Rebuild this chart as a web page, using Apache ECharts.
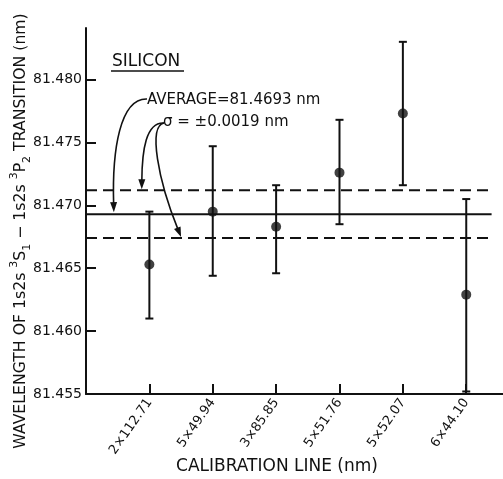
<!DOCTYPE html>
<html><head><meta charset="utf-8">
<script src="https://cdn.jsdelivr.net/npm/echarts@6/dist/echarts.min.js"></script>
<style>html,body{margin:0;padding:0;background:#fff}#c{width:503px;height:479px}</style>
</head><body><div id="c"></div>
<script>
// ---- data ----
const categories = ['2×112.71', '5×49.94', '3×85.85', '5×51.76', '5×52.07', '6×44.10'];
const values  = [81.4653, 81.4695, 81.4683, 81.4726, 81.4773, 81.4629];
const errLow  = [81.4610, 81.4644, 81.4646, 81.4685, 81.4716, 81.4552];
const errHigh = [81.4695, 81.4747, 81.4716, 81.4768, 81.4830, 81.4705];
const average = 81.4693;
const sigma = 0.0019;
const yTickValues = [81.455, 81.460, 81.465, 81.470, 81.475, 81.480];
const xPositions = [1, 2, 3, 4, 5, 6];

// ---- styling ----
const INK = '#111';
const FONT = 'DejaVu Sans';
const lineEnd = 6.4;

const chart = echarts.init(document.getElementById('c'), null, {renderer: 'canvas'});

const pts = values.map((v, i) => [xPositions[i], v]);
const bars = values.map((v, i) => [xPositions[i], errLow[i], errHigh[i]]);

chart.setOption({
  animation: false,
  backgroundColor: '#fff',
  grid: {left: 86, right: 0, top: 28, bottom: 85},
  xAxis: {
    type: 'value', min: 0, max: 6.58,
    axisLine: {show: true, onZero: false, lineStyle: {color: INK, width: 2}},
    axisTick: {show: true, inside: true, length: 10, lineStyle: {color: INK, width: 2}, customValues: xPositions},
    axisLabel: {
      customValues: xPositions, rotate: 55, margin: 6,
      fontFamily: FONT, fontSize: 13, color: INK,
      formatter: v => categories[Math.round(v) - 1] || ''
    },
    splitLine: {show: false}
  },
  yAxis: {
    type: 'value', min: 81.455, max: 81.4841,
    axisLine: {show: true, onZero: false, lineStyle: {color: INK, width: 2}},
    axisTick: {show: true, inside: true, length: 10, lineStyle: {color: INK, width: 2}, customValues: yTickValues},
    axisLabel: {
      customValues: yTickValues, margin: 4,
      fontFamily: FONT, fontSize: 14, color: INK,
      formatter: v => v.toFixed(3)
    },
    splitLine: {show: false}
  },
  series: [
    {
      type: 'line', data: [[0, average], [lineEnd, average]], symbol: 'none',
      lineStyle: {color: INK, width: 2}, silent: true
    },
    {
      type: 'line', data: [[0, average + sigma], [lineEnd, average + sigma]], symbol: 'none',
      lineStyle: {color: INK, width: 2, type: [11, 6]}, silent: true
    },
    {
      type: 'line', data: [[0, average - sigma], [lineEnd, average - sigma]], symbol: 'none',
      lineStyle: {color: INK, width: 2, type: [11, 6]}, silent: true
    },
    {
      type: 'custom', data: bars, clip: false,
      renderItem: (params, api) => {
        const x = api.value(0);
        const lo = api.coord([x, api.value(1)]);
        const hi = api.coord([x, api.value(2)]);
        const cap = 4;
        const st = {stroke: INK, lineWidth: 2};
        return {type: 'group', children: [
          {type: 'line', shape: {x1: lo[0], y1: lo[1], x2: hi[0], y2: hi[1]}, style: st},
          {type: 'line', shape: {x1: lo[0] - cap, y1: lo[1], x2: lo[0] + cap, y2: lo[1]}, style: st},
          {type: 'line', shape: {x1: hi[0] - cap, y1: hi[1], x2: hi[0] + cap, y2: hi[1]}, style: st}
        ]};
      }
    },
    {
      type: 'scatter', data: pts, symbol: 'circle', symbolSize: 10,
      itemStyle: {color: INK}, z: 5
    }
  ]
});

// ---- annotations ----
function px(x, y) { return chart.convertToPixel({gridIndex: 0}, [x, y]); }

function arrow(p0, c1, c2, tip) {
  const dx = tip[0] - c2[0], dy = tip[1] - c2[1];
  const len = Math.hypot(dx, dy);
  const ux = dx / len, uy = dy / len;
  const L = 10, W = 3.5;
  const base = [tip[0] - ux * L, tip[1] - uy * L];
  return [
    {type: 'bezierCurve', shape: {x1: p0[0], y1: p0[1], cpx1: c1[0], cpy1: c1[1], cpx2: c2[0], cpy2: c2[1], x2: base[0] + ux * 2, y2: base[1] + uy * 2},
      style: {stroke: INK, lineWidth: 1.6, fill: null}},
    {type: 'polygon', shape: {points: [tip, [base[0] - uy * W, base[1] + ux * W], [base[0] + uy * W, base[1] - ux * W]]},
      style: {fill: INK}}
  ];
}

const tip1 = px(0.44, average); tip1[1] -= 2;
const tip2 = px(0.88, average + sigma); tip2[1] -= 1;
const tip3 = px(1.50, average - sigma); tip3[1] -= 1;

const avgStart = [147, 99];
const sigStart = [164, 123];

const graphics = [
  {type: 'text', x: 112, y: 62, style: {text: 'SILICON', font: '17px "DejaVu Sans"', fill: INK, align: 'left', verticalAlign: 'middle'}},
  {type: 'line', shape: {x1: 111, y1: 71, x2: 184, y2: 71}, style: {stroke: INK, lineWidth: 1.6}},
  {type: 'text', x: 147, y: 100, style: {text: 'AVERAGE=81.4693 nm', font: '15px "DejaVu Sans"', fill: INK, align: 'left', verticalAlign: 'middle'}},
  {type: 'text', x: 163, y: 122, style: {text: 'σ = ±0.0019 nm', font: '15px "DejaVu Sans"', fill: INK, align: 'left', verticalAlign: 'middle'}},
  {type: 'text', x: 277, y: 467, style: {text: 'CALIBRATION LINE (nm)', font: '17px "DejaVu Sans"', fill: INK, align: 'center', verticalAlign: 'middle'}},
  {type: 'text', x: 21, y: 231, rotation: Math.PI / 2,
    style: {
      text: 'WAVELENGTH OF 1s2s {sup|3}S{sub|1} − 1s2s {sup|3}P{sub|2} TRANSITION (nm)',
      font: '15.7px "DejaVu Sans"', fill: INK, align: 'center', verticalAlign: 'middle', lineHeight: 24,
      rich: {
        sup: {fontSize: 11, fontFamily: FONT, fill: INK, verticalAlign: 'top', lineHeight: 12},
        sub: {fontSize: 11, fontFamily: FONT, fill: INK, verticalAlign: 'bottom', lineHeight: 12}
      }
    }}
];
graphics.push(...arrow(avgStart, [120, 98], [112, 150], tip1));
graphics.push(...arrow(sigStart, [146, 122], [142, 150], tip2));
graphics.push(...arrow(sigStart, [148, 126], [158, 180], tip3));

chart.setOption({graphic: {elements: graphics}});
</script></body></html>
